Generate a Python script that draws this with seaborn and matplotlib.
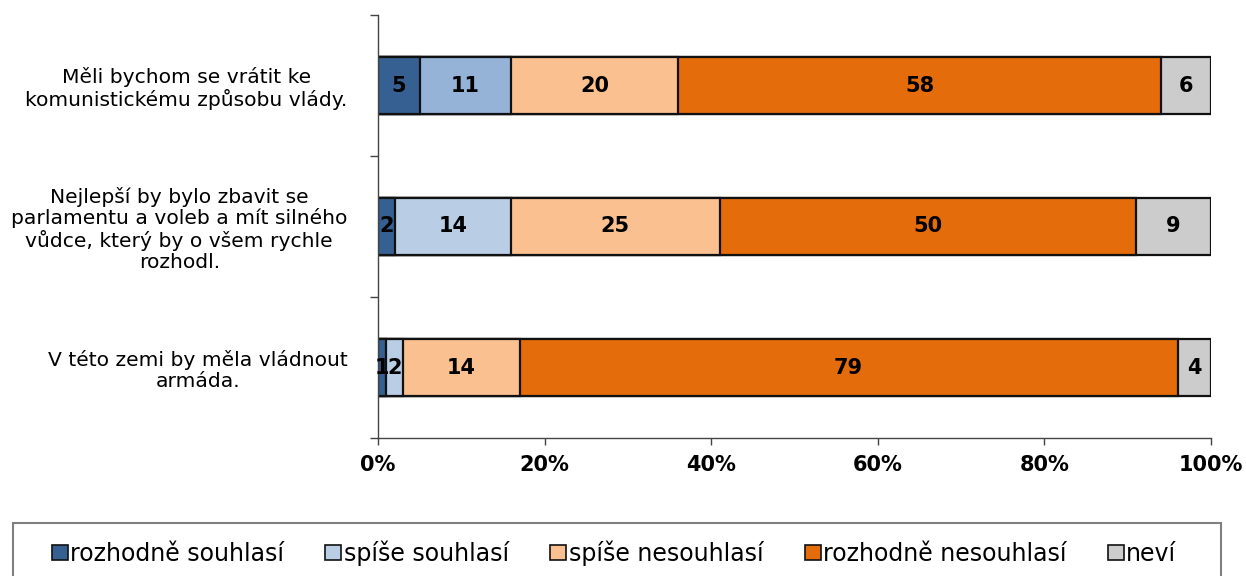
import matplotlib
matplotlib.use("Agg")
import matplotlib.pyplot as plt
from matplotlib.patches import Rectangle, Patch
import seaborn as sns
import numpy as np
import pandas as pd

categories = [
    "Měli bychom se vrátit ke\nkomunistickému způsobu vlády.",
    "Nejlepší by bylo zbavit se\nparlamentu a voleb a mít silného\nvůdce, který by o všem rychle\nrozhodl.",
    "V této zemi by měla vládnout\narmáda.",
]
series_names = ["rozhodně souhlasí", "spíše souhlasí", "spíše nesouhlasí",
                "rozhodně nesouhlasí", "neví"]
rozhodne_souhlasi = [5, 2, 1]
spise_souhlasi = [11, 14, 2]
spise_nesouhlasi = [20, 25, 14]
rozhodne_nesouhlasi = [58, 50, 79]
nevi = [6, 9, 4]
x_ticks = [0, 20, 40, 60, 80, 100]
x_tick_labels = ["0%", "20%", "40%", "60%", "80%", "100%"]

series = [rozhodne_souhlasi, spise_souhlasi, spise_nesouhlasi, rozhodne_nesouhlasi, nevi]
# per-row colours (row 1 of "spíše souhlasí" is a darker light blue in the original)
row_colors = [
    ["#366092", "#366092", "#366092"],
    ["#95B3D7", "#B9CDE5", "#B9CDE5"],
    ["#FAC090", "#FAC090", "#FAC090"],
    ["#E46C0A", "#E46C0A", "#E46C0A"],
    ["#CCCCCC", "#CCCCCC", "#CCCCCC"],
]
legend_colors = ["#366092", "#B9CDE5", "#FAC090", "#E46C0A", "#CCCCCC"]

sns.set_theme(style="white")
plt.rcParams["font.family"] = ["DejaVu Sans"]

fig = plt.figure(figsize=(12.46, 5.76), dpi=100)
ax = fig.add_axes([378 / 1246, 1 - 438 / 576, (1211 - 378) / 1246, (438 - 15) / 576])

vals = np.array(series, dtype=float)
cum = np.cumsum(vals, axis=0)

# Draw cumulative bars from the largest total down so they stack visually
for i in range(len(series) - 1, -1, -1):
    df = pd.DataFrame({"cat": categories, "val": cum[i]})
    sns.barplot(data=df, x="val", y="cat", hue="cat", palette=row_colors[i],
                orient="h", width=0.405, edgecolor="#111111", linewidth=1.6,
                saturation=1, legend=False, ax=ax, dodge=False)

# value labels
for i in range(len(series)):
    for r in range(len(categories)):
        center = cum[i][r] - vals[i][r] / 2
        ax.text(center, r, f"{int(vals[i][r])}", ha="center", va="center",
                fontsize=15, fontweight="bold", color="#000000")

ax.set_xlim(0, 100)
ax.set_ylim(2.5, -0.5)
ax.set_xlabel("")
ax.set_ylabel("")
ax.set_xticks(x_ticks)
ax.set_xticklabels(x_tick_labels, fontsize=15, fontweight="bold", color="#000000")
ax.set_yticks(range(len(categories)))
ax.set_yticklabels(categories, fontsize=14.6, color="#000000")
for lbl in ax.get_yticklabels():
    lbl.set_multialignment("center")
    lbl.set_linespacing(1.12)
ax.set_yticks([-0.5, 0.5, 1.5, 2.5], minor=True)
ax.tick_params(axis="y", which="major", length=0, pad=22)
ax.tick_params(axis="y", which="minor", length=6, width=1, color="#444444", direction="out", left=True)
ax.tick_params(axis="x", which="major", length=5, width=1, color="#444444", direction="out",
               bottom=True, pad=7)
for s in ["top", "right"]:
    ax.spines[s].set_visible(False)
for s in ["left", "bottom"]:
    ax.spines[s].set_color("#444444")
    ax.spines[s].set_linewidth(1)
ax.grid(False)

# legend frame
W, H = 1246, 576
fig.patches.append(Rectangle((13 / W, -10 / H), (1221 - 13) / W, (576 - 523 + 10) / H,
                             transform=fig.transFigure, fill=False,
                             edgecolor="#7f7f7f", linewidth=1.5))
handles = [Patch(facecolor=c, edgecolor="#111111", linewidth=1.2) for c in legend_colors]
fig.legend(handles, series_names, loc="center", bbox_to_anchor=(614 / W, 1 - 553 / H),
           ncol=5, frameon=False, handlelength=0.68, handleheight=0.6,
           handletextpad=0.1, columnspacing=1.75, labelcolor="#000000",
           prop={"family": "DejaVu Sans", "size": 17})

fig.savefig("out.png", dpi=100)
